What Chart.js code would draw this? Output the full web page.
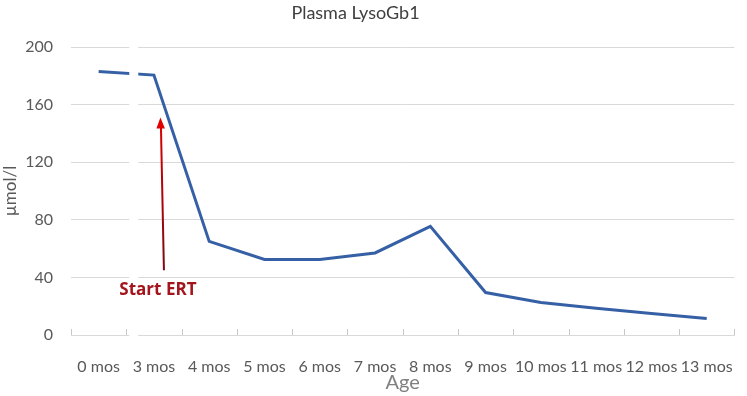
<!DOCTYPE html>
<html>
<head>
<meta charset="utf-8">
<script src="https://cdn.jsdelivr.net/npm/chart.js@4"></script>
<style>
  html, body { margin: 0; padding: 0; background: #fff; }
  #wrap { width: 747px; height: 396px; }
</style>
</head>
<body>
<div id="wrap"><canvas id="lysoChart" width="747" height="396"></canvas></div>
<script>
const ageLabels = ['0 mos', '3 mos', '4 mos', '5 mos', '6 mos', '7 mos', '8 mos', '9 mos', '10 mos', '11 mos', '12 mos', '13 mos'];
const lysoGb1 = [183, 180.5, 65, 52.5, 52.5, 57, 75.5, 29.5, 22.5, 18.5, 15, 11.5];
const yTicks = [0, 40, 80, 120, 160, 200];

// arrow marking the start of ERT (category index, from / to value)
const ertIndex = 1;
const ertArrowFrom = 45;
const ertArrowTo = 151;
const ertTextValue = 31;

const chartTitle = 'Plasma LysoGb1';
const FONT = 'Lato, "Open Sans", sans-serif';

// white strip between 0 mos and 3 mos (axis break), little tick marks, the ERT arrow and the title
const extras = {
  id: 'extras',
  beforeDatasetsDraw(chart) {
    const { ctx, chartArea, scales: { x } } = chart;
    const ctr0 = x.getPixelForValue(0);
    const ctr1 = x.getPixelForValue(1);
    const step = ctr1 - ctr0;
    ctx.save();
    ctx.strokeStyle = '#c8c8c8';
    ctx.lineWidth = 1;
    for (let i = 0; i <= ageLabels.length; i++) {
      const px = Math.round(ctr0 - step / 2 + i * step) + 0.5;
      ctx.beginPath();
      ctx.moveTo(px, chartArea.bottom);
      ctx.lineTo(px, chartArea.bottom - 6);
      ctx.stroke();
    }
    ctx.restore();
  },
  afterDatasetsDraw(chart) {
    const { ctx, chartArea, scales: { x, y } } = chart;
    const boundary = (x.getPixelForValue(0) + x.getPixelForValue(1)) / 2;
    ctx.save();
    ctx.fillStyle = '#fff';
    ctx.fillRect(boundary + 3, chartArea.top - 4, 9, chartArea.bottom - chartArea.top + 8);

    const ax = x.getPixelForValue(ertIndex) + 8;
    const yBase = y.getPixelForValue(ertArrowFrom);
    const yTip = y.getPixelForValue(ertArrowTo);
    const grad = ctx.createLinearGradient(0, yBase, 0, yTip);
    grad.addColorStop(0, '#7a0a14');
    grad.addColorStop(1, '#e00000');
    ctx.strokeStyle = grad;
    ctx.lineWidth = 2;
    ctx.beginPath();
    ctx.moveTo(ax + 2, yBase);
    ctx.lineTo(ax - 1, yTip + 8);
    ctx.stroke();
    ctx.fillStyle = '#e00000';
    ctx.beginPath();
    ctx.moveTo(ax - 1.5, yTip);
    ctx.lineTo(ax - 5.5, yTip + 11);
    ctx.lineTo(ax + 3, yTip + 11);
    ctx.closePath();
    ctx.fill();

    ctx.fillStyle = '#a3141c';
    ctx.font = 'bold 17px "Open Sans", sans-serif';
    ctx.textAlign = 'center';
    ctx.textBaseline = 'middle';
    ctx.fillText('Start ERT', ax - 4, y.getPixelForValue(ertTextValue));

    // chart title, a little left of centre like the original
    ctx.fillStyle = '#404040';
    ctx.font = '18px ' + FONT;
    ctx.fillText(chartTitle, chart.width / 2 - 18, 13);
    ctx.restore();
  }
};

new Chart(document.getElementById('lysoChart'), {
  type: 'line',
  data: {
    labels: ageLabels,
    datasets: [{
      label: chartTitle,
      data: lysoGb1,
      borderColor: '#3660a5',
      backgroundColor: '#3660a5',
      borderWidth: 3,
      pointRadius: 0,
      tension: 0,
      fill: false
    }]
  },
  options: {
    responsive: false,
    animation: false,
    layout: { padding: { left: 0, right: 9, top: 47, bottom: 0 } },
    plugins: {
      legend: { display: false },
      tooltip: { enabled: false },
      title: { display: false }
    },
    scales: {
      x: {
        offset: true,
        grid: { display: false, offset: true },
        border: { display: true, color: '#d9d9d9' },
        ticks: { color: '#595959', font: { family: FONT, size: 16 }, padding: 14, maxRotation: 0, autoSkip: false },
        title: { display: true, text: 'Age', color: '#808080', font: { family: FONT, size: 20 }, padding: { top: 0, bottom: 1 } },
        afterFit(scale) { scale.height = 61; }
      },
      y: {
        min: 0,
        max: 200,
        afterBuildTicks(scale) { scale.ticks = yTicks.map(v => ({ value: v })); },
        grid: { color: '#d9d9d9', drawTicks: false },
        border: { display: false },
        ticks: { color: '#595959', font: { family: FONT, size: 16 }, padding: 18 },
        title: { display: true, text: 'µmol/l', color: '#595959', font: { family: FONT, size: 17 }, padding: 0 },
        afterFit(scale) { scale.width = 71; }
      }
    }
  },
  plugins: [extras]
});
</script>
</body>
</html>
